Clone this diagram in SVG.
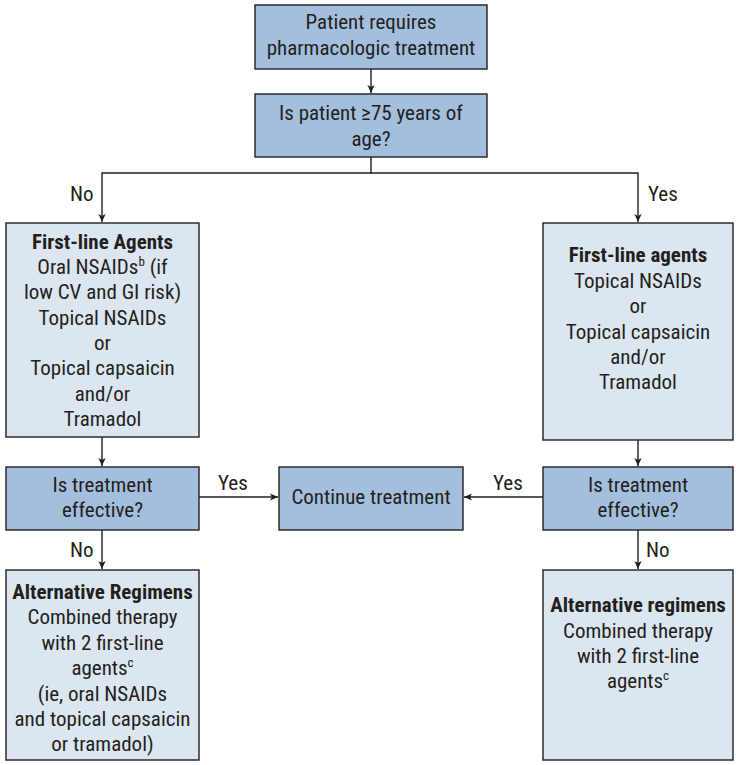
<svg xmlns="http://www.w3.org/2000/svg" width="736" height="765" viewBox="0 0 736 765">
  <style>
    .dark { fill: #a4bedd; stroke: #231f20; stroke-width: 1.4; }
    .light { fill: #dce6f1; stroke: #231f20; stroke-width: 1.4; }
    text { font-family: "Liberation Sans Narrow", "Roboto Condensed", "Liberation Sans", sans-serif; font-size: 21px; fill: #231f20; text-anchor: middle; }
    .b { font-weight: bold; }
    .lbl { text-anchor: start; }
    .wire { fill: none; stroke: #231f20; stroke-width: 1.4; }
    .sup { font-size: 13px; }
  </style>
  <defs>
    <marker id="arrow" viewBox="0 0 10 10" refX="10" refY="5" markerWidth="8" markerHeight="9" markerUnits="userSpaceOnUse" orient="auto">
      <path d="M0,0.5 L10,5 L0,9.5 L2.5,5 Z" fill="#231f20"/>
    </marker>
  </defs>

  <g id="connectors">
    <line class="wire" x1="371" y1="69" x2="371" y2="93" marker-end="url(#arrow)"/>
    <polyline class="wire" points="371,157 371,173 102,173 102,222" marker-end="url(#arrow)"/>
    <polyline class="wire" points="371,173 638,173 638,222" marker-end="url(#arrow)"/>
    <line class="wire" x1="102" y1="437" x2="102" y2="466" marker-end="url(#arrow)"/>
    <line class="wire" x1="638" y1="440" x2="638" y2="466" marker-end="url(#arrow)"/>
    <line class="wire" x1="199" y1="497" x2="278" y2="497" marker-end="url(#arrow)"/>
    <line class="wire" x1="543" y1="497" x2="464" y2="497" marker-end="url(#arrow)"/>
    <line class="wire" x1="102" y1="530" x2="102" y2="569" marker-end="url(#arrow)"/>
    <line class="wire" x1="638" y1="530" x2="638" y2="569" marker-end="url(#arrow)"/>
    <text class="lbl" x="70" y="201">No</text>
    <text class="lbl" x="648" y="201">Yes</text>
    <text class="lbl" x="218" y="490">Yes</text>
    <text class="lbl" x="493" y="490">Yes</text>
    <text class="lbl" x="70" y="557">No</text>
    <text class="lbl" x="646" y="557">No</text>
  </g>

  <g id="start">
    <rect class="dark" x="255" y="5" width="232" height="64"/>
    <text x="371" y="29">Patient requires</text>
    <text x="371" y="55">pharmacologic treatment</text>
  </g>

  <g id="age-check">
    <rect class="dark" x="255" y="94" width="232" height="63"/>
    <text x="371" y="120">Is patient ≥75 years of</text>
    <text x="371" y="146">age?</text>
  </g>

  <g id="first-line-under75">
    <rect class="light" x="6" y="223" width="193" height="214"/>
    <text class="b" x="102.5" y="249">First-line Agents</text>
    <text x="102.5" y="274">Oral NSAIDs<tspan class="sup" dy="-8">b</tspan><tspan dy="8"> (if</tspan></text>
    <text x="102.5" y="299">low CV and GI risk)</text>
    <text x="102.5" y="325">Topical NSAIDs</text>
    <text x="102.5" y="350">or</text>
    <text x="102.5" y="375">Topical capsaicin</text>
    <text x="102.5" y="401">and/or</text>
    <text x="102.5" y="426">Tramadol</text>
  </g>

  <g id="first-line-75plus">
    <rect class="light" x="543" y="223" width="190" height="217"/>
    <text class="b" x="638" y="262">First-line agents</text>
    <text x="638" y="288">Topical NSAIDs</text>
    <text x="638" y="313">or</text>
    <text x="638" y="339">Topical capsaicin</text>
    <text x="638" y="364">and/or</text>
    <text x="638" y="389">Tramadol</text>
  </g>

  <g id="effective-left">
    <rect class="dark" x="6" y="467" width="193" height="63"/>
    <text x="102.5" y="492">Is treatment</text>
    <text x="102.5" y="517">effective?</text>
  </g>

  <g id="continue">
    <rect class="dark" x="279" y="467" width="184" height="63"/>
    <text x="371" y="504">Continue treatment</text>
  </g>

  <g id="effective-right">
    <rect class="dark" x="543" y="467" width="190" height="63"/>
    <text x="638" y="492">Is treatment</text>
    <text x="638" y="517">effective?</text>
  </g>

  <g id="alternative-left">
    <rect class="light" x="6" y="570" width="193" height="190"/>
    <text class="b" x="102.5" y="599">Alternative Regimens</text>
    <text x="102.5" y="624">Combined therapy</text>
    <text x="102.5" y="650">with 2 first-line</text>
    <text x="102.5" y="675">agents<tspan class="sup" dy="-8">c</tspan></text>
    <text x="102.5" y="701">(ie, oral NSAIDs</text>
    <text x="102.5" y="726">and topical capsaicin</text>
    <text x="102.5" y="751">or tramadol)</text>
  </g>

  <g id="alternative-right">
    <rect class="light" x="543" y="570" width="190" height="190"/>
    <text class="b" x="638" y="612">Alternative regimens</text>
    <text x="638" y="638">Combined therapy</text>
    <text x="638" y="663">with 2 first-line</text>
    <text x="638" y="688">agents<tspan class="sup" dy="-8">c</tspan></text>
  </g>
</svg>
